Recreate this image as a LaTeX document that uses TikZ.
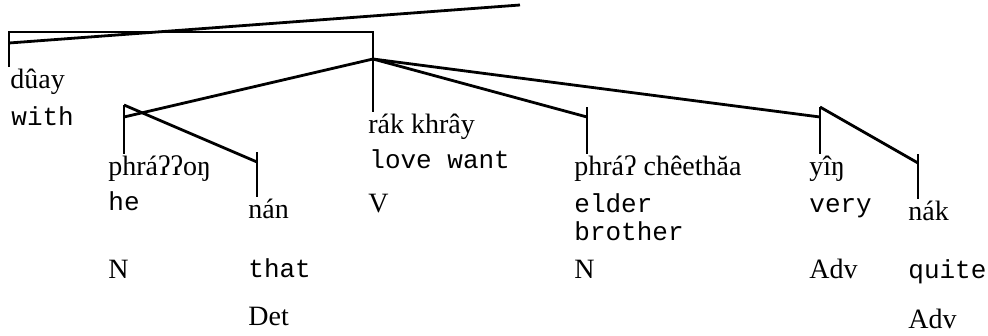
\documentclass[tikz,border=0pt]{standalone}
\usepackage{fontspec}
\setmainfont{Liberation Serif}
\setmonofont{Liberation Mono}

\begin{document}
\begin{tikzpicture}
[x=1pt, y=-1pt, line width=2.8pt,
every node/.style={inner sep=0 pt, anchor=base west},
thai/.style={font=\fontsize{28}{30}\selectfont},
gloss/.style={font=\fontsize{26}{30}\ttfamily},
cat/.style={font=\fontsize{28}{30}\selectfont}
]
\useasboundingbox (0,0) rectangle (988,335);

% branch points of the tree
\path
(9,43) coordinate (r1)
(520,5) coordinate (r2)
(9,32) coordinate (b1)
(373,32) coordinate (b2)
(373,59) coordinate (top)
(124,105) coordinate (np1) (124,117) coordinate (np1a)
(257,152) coordinate (det1) (257,162) coordinate (det1a)
(587,107) coordinate (np2) (587,117) coordinate (np2a)
(820,107) coordinate (adv1) (820,117) coordinate (adv1a)
(918,154) coordinate (adv2) (918,163) coordinate (adv2a)
;

% thai words
\node[thai] (w1) at (9,88) {dûay};
\node[thai] (w2) at (107,175) {phráʔʔoŋ};
\node[thai] (w3) at (367,133) {rák khrây};
\node[thai] (w4) at (247,218) {nán};
\node[thai] (w5) at (573,175) {phráʔ chêethăa};
\node[thai] (w6) at (808,175) {yîŋ};
\node[thai] (w7) at (907,220) {nák};

% glosses
\node[gloss] (g1) at (10,125) {with};
\node[gloss] (g2) at (107,210) {he};
\node[gloss] (g3) at (368,168) {love want};
\node[gloss] (g4) at (247,277) {that};
\node[gloss] (g5a) at (573,212) {elder};
\node[gloss] (g5b) at (573,240) {brother};
\node[gloss] (g6) at (808,212) {very};
\node[gloss] (g7) at (907,278) {quite};

% categories
\node[cat] (c2) at (107,278) {N};
\node[cat] (c3) at (367,212) {V};
\node[cat] (c4) at (247,325) {Det};
\node[cat] (c5) at (573,278) {N};
\node[cat] (c6) at (808,278) {Adv};
\node[cat] (c7) at (907,328) {Adv};

% branches
\draw (r1) -- (r2);
\draw (b1 |- w1.north) -- (b1) -- (b2) -- (b2 |- w3.north);
\draw (top) -- (np1a);
\draw (np1) -- (det1a);
\draw (top) -- (np2a);
\draw (top) -- (adv1a);
\draw (adv1) -- (adv2a);
\foreach \p/\w in {np1/w2, det1/w4, np2/w5, adv1/w6, adv2/w7}
  \draw (\p) -- (\p |- \w.north);

\end{tikzpicture}
\end{document}
